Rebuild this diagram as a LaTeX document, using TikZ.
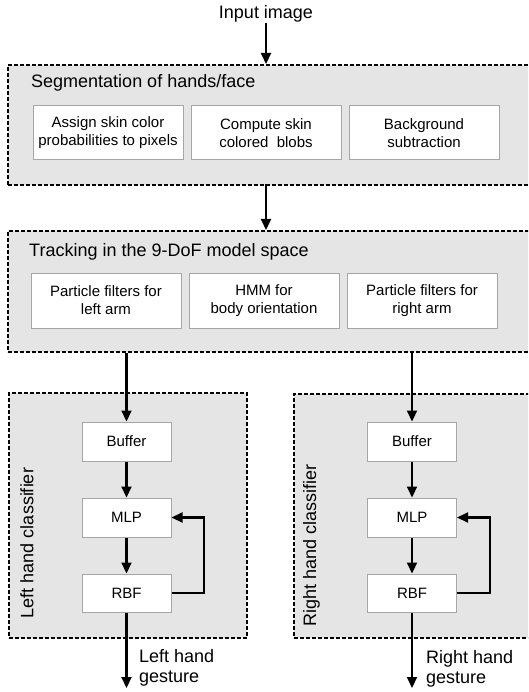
\documentclass[tikz,border=0pt]{standalone}
\usepackage{fontspec}
\setmainfont{Liberation Sans}
\usetikzlibrary{arrows.meta}
\begin{document}
\begin{tikzpicture}[x=1pt,y=1pt,
  group/.style={draw=black, fill=black!10, line width=1.9pt, dash pattern=on 4pt off 2pt, anchor=north west, inner sep=0pt},
  sub/.style={draw=black!35, fill=white, line width=1pt, align=center, inner sep=0pt, font=\fontsize{15}{18}\selectfont},
  cls/.style={draw=black!35, fill=white, line width=1pt, inner sep=0pt, minimum width=89pt, font=\fontsize{15}{18}\selectfont},
  ttl/.style={anchor=west, inner sep=0pt, font=\fontsize{18}{21}\selectfont},
  lbl/.style={inner sep=0pt, font=\fontsize{18}{21}\selectfont},
  arr/.style={line width=2.1pt, -{Triangle[length=11pt,width=10pt]}},
  fb/.style={line width=2.1pt, -{Triangle[length=11pt,width=10pt]}}
]
\clip (0,0) rectangle (528,-692);
\fill[white] (0,0) rectangle (528,-692);

% Input
\node[lbl] (input) at (266,-14) {Input image};

% Segmentation group
\node[group, minimum width=530pt, minimum height=120pt] (seg) at (7,-64) {};
\node[ttl] (segt) at (31,-83) {Segmentation of hands/face};
\node[sub, minimum width=150pt, minimum height=54pt] (s1) at (108,-133) {Assign skin color\\probabilities to pixels};
\node[sub, minimum width=150pt, minimum height=54pt] (s2) at (266,-133) {Compute skin\\colored\ \ blobs};
\node[sub, minimum width=150pt, minimum height=54pt] (s3) at (424,-133) {Background\\subtraction};

% Tracking group
\node[group, minimum width=530pt, minimum height=121pt] (trk) at (7,-230) {};
\node[ttl] (trkt) at (29,-252) {Tracking in the 9-DoF model space};
\node[sub, minimum width=150pt, minimum height=55pt] (t1) at (106,-300.5) {Particle filters for\\left arm};
\node[sub, minimum width=150pt, minimum height=55pt] (t2) at (264,-300.5) {HMM for\\body orientation};
\node[sub, minimum width=150pt, minimum height=55pt] (t3) at (422,-300.5) {Particle filters for\\right arm};

% Left classifier
\node[group, minimum width=238pt, minimum height=245pt] (lc) at (8,-392) {};
\node[lbl, rotate=90] (lct) at (27,-543) {Left hand classifier};
\node[cls, minimum height=39pt] (lbuf) at (126.5,-441.5) {Buffer};
\node[cls, minimum height=39pt] (lmlp) at (126.5,-517.5) {MLP};
\node[cls, minimum height=38pt] (lrbf) at (126.5,-593) {RBF};
\coordinate (lout) at (126.5,-688);
\node[lbl, anchor=west, align=left, font=\fontsize{18}{20}\selectfont] (lg) at (139,-668) {Left hand\\gesture};

% Right classifier
\node[group, minimum width=245pt, minimum height=244pt] (rc) at (293,-393) {};
\node[lbl, rotate=90] (rct) at (311.5,-545) {Right hand classifier};
\node[cls, minimum height=39pt] (rbuf) at (412,-441.5) {Buffer};
\node[cls, minimum height=39pt] (rmlp) at (412,-517.5) {MLP};
\node[cls, minimum height=38pt] (rrbf) at (412,-593) {RBF};
\coordinate (rout) at (412,-688);
\node[lbl, anchor=west, align=left, font=\fontsize{18}{20}\selectfont] (rg) at (426,-669) {Right hand\\gesture};

% Connectors
\draw[arr] (input.south) -- (input.south |- seg.north);
\draw[arr] (266,-184) -- (266,-230);
\draw[arr] (lbuf.north |- trk.south) -- (lbuf.north);
\draw[arr] (rbuf.north |- trk.south) -- (rbuf.north);
\draw[arr] (lbuf) -- (lmlp);
\draw[arr] (lmlp) -- (lrbf);
\draw[arr] (lrbf) -- (lout);
\draw[fb] (lrbf.east) -- (204,-593) -- (204,-517.5) -- (lmlp.east);
\draw[arr] (rbuf) -- (rmlp);
\draw[arr] (rmlp) -- (rrbf);
\draw[arr] (rrbf) -- (rout);
\draw[fb] (rrbf.east) -- (490,-593) -- (490,-517.5) -- (rmlp.east);
\end{tikzpicture}
\end{document}
